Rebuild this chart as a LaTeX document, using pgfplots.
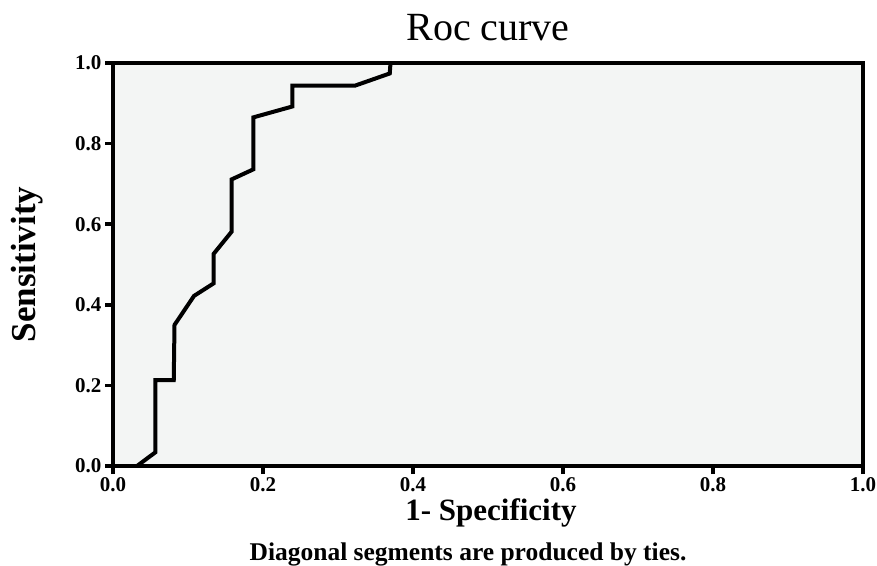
\documentclass[border=0pt]{standalone}
\usepackage{fontspec}
\setmainfont{Liberation Serif}
\usepackage{pgfplots}
\pgfplotsset{compat=1.18}
\definecolor{plotbg}{RGB}{243,245,244}

\begin{document}
\begin{tikzpicture}
\path[use as bounding box] (0,0) rectangle (877pt,565pt);
\begin{axis}[
    at={(113pt,99pt)}, anchor=south west,
    scale only axis,
    width=750pt, height=403pt,
    xmin=0, xmax=1, ymin=0, ymax=1,
    xtick={0,0.2,0.4,0.6,0.8,1},
    ytick={0,0.2,0.4,0.6,0.8,1},
    xtick pos=bottom, ytick pos=left,
    tick align=outside,
    major tick length=8pt,
    every tick/.style={line width=3.5pt, black},
    axis line style={line width=4pt},
    axis background/.style={fill=plotbg},
    /pgf/number format/assume math mode=true,
    /pgf/number format/.cd, fixed, fixed zerofill, precision=1, /pgfplots/.cd,
    tick label style={font=\fontsize{21}{24}\selectfont\bfseries},
    title={Roc curve},
    title style={font=\fontsize{40}{46}\selectfont, anchor=base, at={(0.5,1)}, yshift=16pt},
    xlabel={1- Specificity},
    xlabel style={font=\fontsize{31}{36}\selectfont\bfseries, anchor=base, at={(0.5,0)}, yshift=-54pt, xshift=3pt},
    ylabel={Sensitivity},
    ylabel style={font=\fontsize{35}{40}\selectfont\bfseries, anchor=center, at={(0,0.5)}, yshift=86pt},
]
\addplot[black, line width=4pt, line join=miter] coordinates {
    (0,0) (0.032,0) (0.0565,0.034) (0.0565,0.213) (0.081,0.213)
    (0.082,0.350) (0.108,0.422) (0.134,0.453) (0.134,0.526)
    (0.158,0.581) (0.158,0.711) (0.187,0.736) (0.187,0.865)
    (0.239,0.892) (0.239,0.944) (0.323,0.944) (0.369,0.974)
    (0.370,1.0) (1,1)
};
\end{axis}
\node[anchor=base, font=\fontsize{25.5}{30}\selectfont\bfseries] at (468pt,5pt) {Diagonal segments are produced by ties.};
\end{tikzpicture}
\end{document}
